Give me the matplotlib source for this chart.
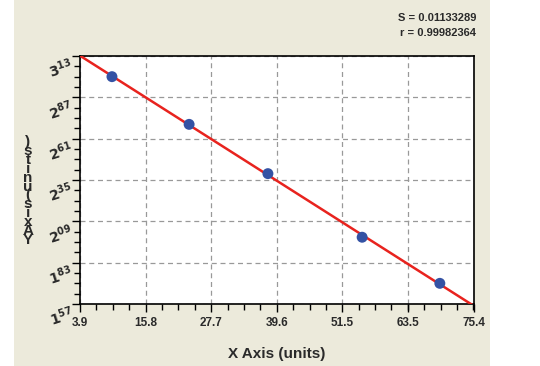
import numpy as np
import matplotlib
matplotlib.use('Agg')
import matplotlib.pyplot as plt
from matplotlib.patches import Rectangle
from matplotlib.ticker import FixedLocator, AutoMinorLocator

# data
x_vals = [9.7, 23.7, 38.0, 55.1, 69.2]
y_vals = [3.00, 2.70, 2.39, 1.99, 1.70]
x_ticks = [3.9, 15.8, 27.7, 39.6, 51.5, 63.5, 75.4]
y_ticks = [1.57, 1.83, 2.09, 2.35, 2.61, 2.87, 3.13]
stat_s = '0.01133289'
stat_r = '0.99982364'

W, H = 540, 366
fig = plt.figure(figsize=(W / 100, H / 100), dpi=100)
fig.patch.set_facecolor('white')
fig.patches.append(Rectangle((14 / W, 0), (490 - 14) / W, 1, transform=fig.transFigure,
                             facecolor='#ECEADB', edgecolor='none', zorder=-10))

ax = fig.add_axes([80 / W, 1 - 304 / H, (474 - 80) / W, (304 - 56) / H])
ax.set_facecolor('white')
ax.set_xlim(x_ticks[0], x_ticks[-1])
ax.set_ylim(y_ticks[0], y_ticks[-1])

# fit line
coef = np.polyfit(x_vals, y_vals, 1)
xl = np.array([x_ticks[0], x_ticks[-1]])
ax.plot(xl, np.polyval(coef, xl), color='#E8231E', lw=1.8, zorder=3)
ax.scatter(x_vals, y_vals, s=62, color='#3452A4', marker='o', zorder=4,
           edgecolors='none')

ax.xaxis.set_major_locator(FixedLocator(x_ticks))
ax.yaxis.set_major_locator(FixedLocator(y_ticks))
ax.xaxis.set_minor_locator(AutoMinorLocator(4))
ax.yaxis.set_minor_locator(AutoMinorLocator(4))
ax.set_xticklabels(['%.1f' % t for t in x_ticks], fontsize=8.5, fontweight='bold',
                   color='#2a2a2a', family='Liberation Sans')
ylabs = []
for t in y_ticks:
    s = '%.2f' % t
    ylabs.append(r'$\mathbf{%s^{%s}}$' % (s[0], s[2:]))
ax.set_yticklabels(ylabs, fontsize=10, color='#2a2a2a', rotation=18)
for lbl in ax.get_yticklabels():
    lbl.set_va('top')
ax.tick_params(which='major', direction='out', length=6, width=1, color='black')
ax.tick_params(which='minor', direction='out', length=4, width=1, color='black')
ax.tick_params(axis='x', pad=3)
ax.tick_params(axis='y', pad=-3)
for sp in ax.spines.values():
    sp.set_linewidth(1.2)
ax.grid(True, which='major', linestyle=(0, (4, 3)), color='#999999', lw=0.9)
ax.set_axisbelow(True)

ax.set_xlabel('X Axis (units)', fontsize=11, fontweight='bold', family='Liberation Sans',
              color='#2a2a2a', labelpad=13)

ylab = 'Y Axis (units)'.replace(' ', '')
fig.text(28 / W, 1 - 191 / H, '\n'.join(reversed(list(ylab))), fontsize=11,
         fontweight='bold', family='Liberation Sans', color='#2a2a2a',
         ha='center', va='center', linespacing=0.54)

fig.text(476 / W, 1 - 18 / H, 'S = ' + stat_s, fontsize=8, fontweight='bold',
         family='Liberation Sans', ha='right', va='center', color='#2a2a2a')
fig.text(476 / W, 1 - 33 / H, 'r = ' + stat_r, fontsize=8, fontweight='bold',
         family='Liberation Sans', ha='right', va='center', color='#2a2a2a')

fig.savefig('out.png', dpi=100, facecolor=fig.get_facecolor())
